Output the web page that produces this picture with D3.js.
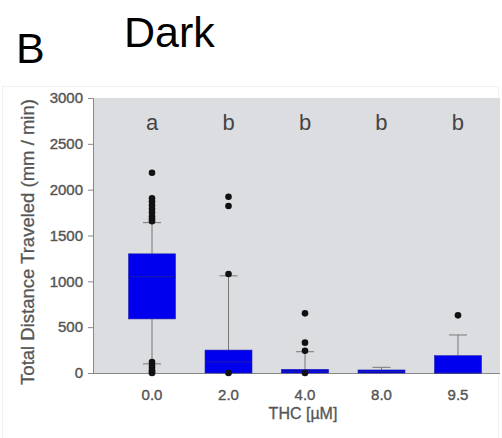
<!DOCTYPE html>
<html><head><meta charset="utf-8">
<script src="https://cdn.jsdelivr.net/npm/d3@7"></script>
<style>body{margin:0;background:#fff}svg{display:block}</style>
</head><body>
<script>
const categories = ["0.0","2.0","4.0","8.0","9.5"];
const q1 =      [590, 0, 0, 0, 0];
const median =  [1050, 120, 20, 15, 0];
const q3 =      [1300, 250, 40, 33, 189];
const whiskLo = [100, 0, 0, 0, 0];
const whiskHi = [1640, 1060, 232, 62, 415];
const outliers = [
  [2185, 1906, 1870, 1830, 1790, 1750, 1710, 1680, 1655, 120, 90, 60, 30, 10, 0],
  [1923, 1822, 1080, 0],
  [651, 331, 243, 0],
  [],
  [629]
];
const letters = ["a","b","b","b","b"];
const yTicks = [0, 500, 1000, 1500, 2000, 2500, 3000];

(function () {
const W = 502, H = 438;
const svg = d3.select("body").append("svg").attr("width", W).attr("height", H);
const font = "Liberation Sans, Arial, sans-serif";

svg.append("rect").attr("x", 2.5).attr("y", 86.5).attr("width", 496).attr("height", 360)
  .attr("fill", "none").attr("stroke", "#f0f0f0");

const pLeft = 93, pRight = 500, pTop = 98, pBottom = 373;
const y = d3.scaleLinear().domain([0, 3000]).range([pBottom, pTop]);
const x = d3.scaleBand().domain(categories).range([99, 511]).padding(0.386);

svg.append("rect").attr("x", pLeft).attr("y", pTop).attr("width", pRight - pLeft).attr("height", pBottom - pTop)
  .attr("fill", "#dcdde0");

const yAxis = svg.append("g").attr("transform", `translate(${pLeft},0)`)
  .call(d3.axisLeft(y).tickValues(yTicks).tickFormat(d3.format("d")).tickSize(5).tickPadding(5).tickSizeOuter(0));
yAxis.select(".domain").attr("stroke", "#888");
yAxis.selectAll(".tick line").attr("stroke", "#888");
yAxis.selectAll("text").attr("font-family", font).attr("font-size", 15).attr("fill", "#555")
  .attr("stroke", "#555").attr("stroke-width", 0.4);

const xAxis = svg.append("g").attr("transform", `translate(0,${pBottom})`)
  .call(d3.axisBottom(x).tickSize(0).tickPadding(16));
xAxis.select(".domain").attr("stroke", "#888").attr("d", `M${pLeft},0.5H${pRight}`);
xAxis.selectAll("text").attr("font-family", font).attr("font-size", 15).attr("fill", "#555")
  .attr("stroke", "#555").attr("stroke-width", 0.4);

const bw = x.bandwidth();
categories.forEach((c, i) => {
  const cx = x(c) + bw / 2;
  const g = svg.append("g");
  g.append("line").attr("x1", cx).attr("x2", cx).attr("y1", y(whiskHi[i])).attr("y2", y(q3[i])).attr("stroke", "#777");
  g.append("line").attr("x1", cx).attr("x2", cx).attr("y1", y(whiskLo[i])).attr("y2", y(q1[i])).attr("stroke", "#777");
  [whiskHi[i], whiskLo[i]].forEach(v => {
    g.append("line").attr("x1", cx - 9).attr("x2", cx + 9).attr("y1", y(v)).attr("y2", y(v)).attr("stroke", "#777");
  });
  g.append("rect").attr("x", x(c)).attr("width", bw)
    .attr("y", y(q3[i])).attr("height", Math.max(2, y(q1[i]) - y(q3[i])))
    .attr("fill", "#0000ee").attr("stroke", "#2020aa").attr("stroke-width", 0.6);
  g.append("line").attr("x1", x(c)).attr("x2", x(c) + bw).attr("y1", y(median[i])).attr("y2", y(median[i]))
    .attr("stroke", "#1a1aa8").attr("stroke-width", 1);
  outliers[i].forEach(v => {
    g.append("circle").attr("cx", cx).attr("cy", y(v)).attr("r", 3.3).attr("fill", "#111");
  });
  svg.append("text").attr("x", cx).attr("y", 130).attr("text-anchor", "middle")
    .attr("font-family", font).attr("font-size", 22).attr("fill", "#444").text(letters[i]);
});

svg.append("text").attr("transform", `translate(34,242) rotate(-90)`)
  .attr("text-anchor", "middle").attr("font-family", font).attr("font-size", 18.5)
  .attr("fill", "#555").attr("stroke", "#555").attr("stroke-width", 0.3).text("Total Distance Traveled (mm / min)");
svg.append("text").attr("x", 303).attr("y", 419).attr("text-anchor", "middle")
  .attr("font-family", font).attr("font-size", 16).attr("fill", "#555").attr("stroke", "#555").attr("stroke-width", 0.3).text("THC [µM]");

svg.append("text").attr("x", 124).attr("y", 47).attr("font-family", font).attr("font-size", 43).attr("fill", "#000").text("Dark");
svg.append("text").attr("x", 16).attr("y", 63).attr("font-family", font).attr("font-size", 43).attr("fill", "#000").text("B");
})();
</script>
</body></html>
